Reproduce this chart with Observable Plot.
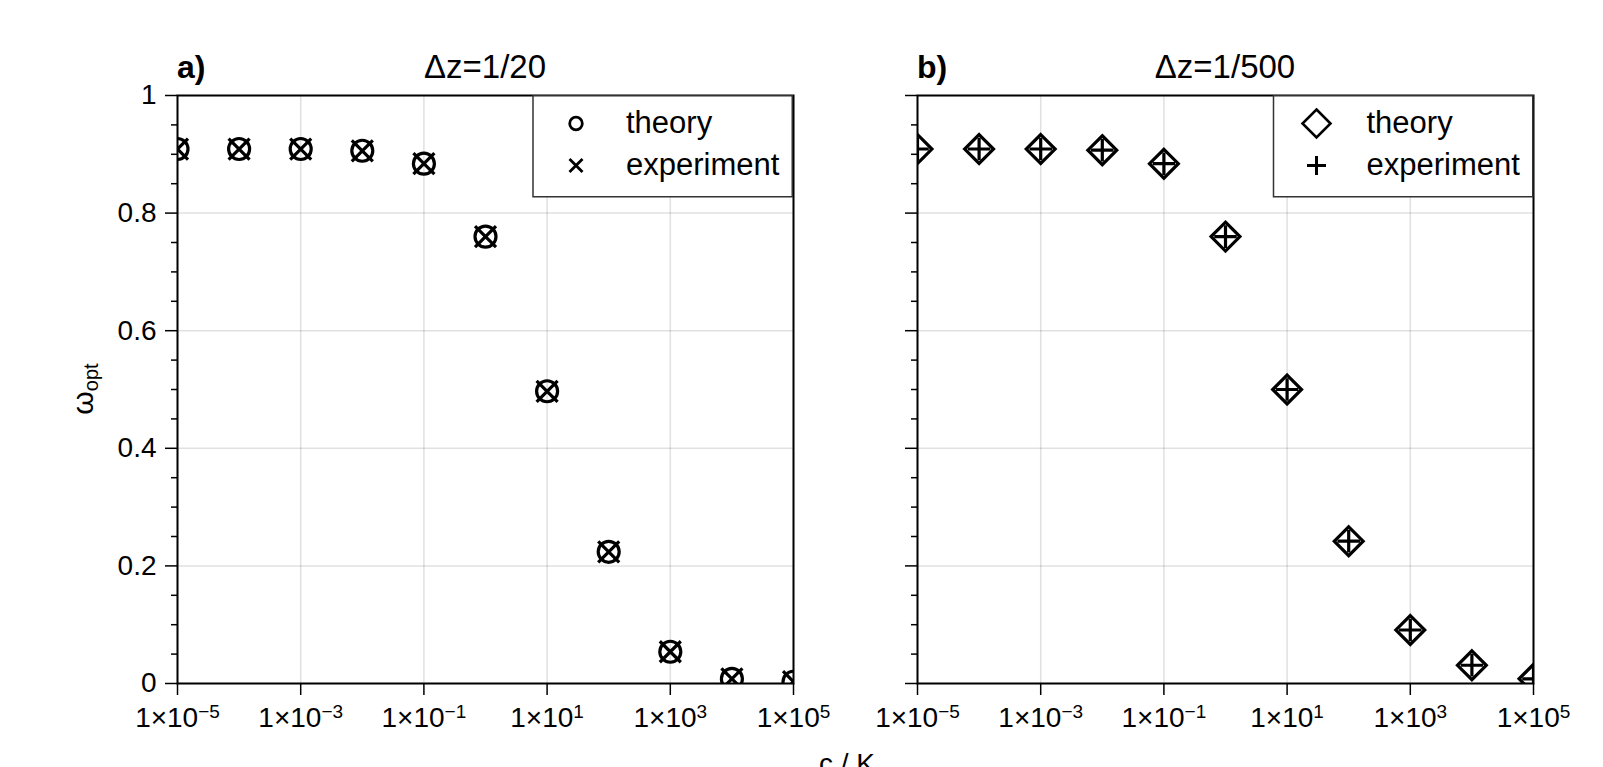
<!DOCTYPE html>
<html><head><meta charset="utf-8">
<script src="https://cdn.jsdelivr.net/npm/d3@7"></script>
<script src="https://cdn.jsdelivr.net/npm/@observablehq/plot@0.6"></script>
<style>
html,body{margin:0;padding:0;background:#fff;}
#wrap{position:relative;width:1603px;height:767px;overflow:hidden;background:#fff;}
#wrap svg{position:absolute;top:0;max-width:none;}
</style></head><body><div id="wrap"></div>
<script>
// ---- data ----
const cK = [1e-5, 1e-4, 1e-3, 1e-2, 1e-1, 1, 10, 100, 1000, 1e4, 1e5];
const theoryA     = [0.909, 0.909, 0.909, 0.906, 0.884, 0.760, 0.497, 0.224, 0.054, 0.008, 0.003];
const experimentA = [0.909, 0.909, 0.909, 0.906, 0.884, 0.760, 0.497, 0.224, 0.054, 0.008, 0.003];
const theoryB     = [0.909, 0.909, 0.909, 0.907, 0.884, 0.760, 0.500, 0.242, 0.091, 0.031, 0.008];
const experimentB = [0.909, 0.909, 0.909, 0.907, 0.884, 0.760, 0.500, 0.242, 0.091, 0.031, 0.008];
const xTickValues = [1e-5, 1e-3, 1e-1, 1e1, 1e3, 1e5];
const xTickLabels = ["1×10|−5", "1×10|−3", "1×10|−1", "1×10|1", "1×10|3", "1×10|5"];
const yTickValues = [0, 0.2, 0.4, 0.6, 0.8, 1];
const yTickLabels = ["0", "0.2", "0.4", "0.6", "0.8", "1"];
const yMinorTicks = [0.05, 0.1, 0.15, 0.25, 0.3, 0.35, 0.45, 0.5, 0.55, 0.65, 0.7, 0.75, 0.85, 0.9, 0.95];
const panelLetters = ["a)", "b)"];
const panelTitles = ["Δz=1/20", "Δz=1/500"];
const seriesNames = ["theory", "experiment"];

const FONT = "Liberation Sans, Arial, Helvetica, sans-serif";
const ns = "http://www.w3.org/2000/svg";
const xFmt = new Map(xTickValues.map((v, i) => [v, xTickLabels[i]]));
const yFmt = new Map(yTickValues.map((v, i) => [v, yTickLabels[i]]));

function panel(o) {
  const rows = cK.map((c, i) => ({c, theory: o.theory[i], experiment: o.experiment[i]}));
  const svg = Plot.plot({
    width: o.width, height: 767,
    marginLeft: o.ml, marginRight: o.mr, marginTop: 95, marginBottom: 84,
    style: {fontFamily: FONT, fontSize: "28px", color: "#000", background: "transparent", overflow: "visible"},
    x: {type: "log", domain: [1e-5, 1e5]},
    y: {domain: [0, 1]},
    marks: [
      Plot.gridX(xTickValues, {stroke: "#000", strokeOpacity: 0.12, strokeWidth: 1.5}),
      Plot.gridY(yTickValues, {stroke: "#000", strokeOpacity: 0.12, strokeWidth: 1.5}),
      Plot.dot(rows, {x: "c", y: "theory", symbol: o.sym1, r: o.r1, stroke: "#000", strokeWidth: 3.2, fill: "none", clip: true}),
      Plot.dot(rows, {x: "c", y: "experiment", symbol: o.sym2, r: o.r2, stroke: "#000", strokeWidth: 3.2, fill: "none", clip: true}),
      Plot.axisX(xTickValues, {tickSize: 12, tickPadding: 12, strokeWidth: 1.5, tickFormat: d => xFmt.get(d), label: null}),
      Plot.axisY(yMinorTicks, {tickSize: 6, strokeWidth: 1.5, tickFormat: () => "", label: null}),
      Plot.axisY(yTickValues, {tickSize: 12, tickPadding: 9, strokeWidth: 1.5, tickFormat: o.labels ? (d => yFmt.get(d)) : (() => ""), label: null}),
      Plot.frame({stroke: "#000", strokeWidth: 2})
    ]
  });
  svg.querySelectorAll("text").forEach(t => {
    t.style.fontSize = "28px";
    t.style.fontFamily = FONT;
    const s = t.textContent;
    if (s.includes("|")) {
      const [b, e] = s.split("|");
      t.textContent = b;
      const ts = document.createElementNS(ns, "tspan");
      ts.setAttribute("dy", "-9.5");
      ts.style.fontSize = "19px";
      ts.textContent = e;
      t.appendChild(ts);
    }
  });
  svg.style.left = o.left + "px";
  return svg;
}

const wrap = document.getElementById("wrap");
wrap.appendChild(panel({width: 860, left: 0, ml: 177, mr: 67, theory: theoryA, experiment: experimentA,
  sym1: "circle", r1: 10.5, sym2: "times", r2: 9.6, labels: true}));
wrap.appendChild(panel({width: 753, left: 850, ml: 67, mr: 70, theory: theoryB, experiment: experimentB,
  sym1: "diamond2", r1: 13, sym2: "plus", r2: 7.3, labels: false}));

// ---- overlay: titles, axis labels, legends ----
const ov = d3.select(wrap).append("svg").attr("width", 1603).attr("height", 767)
  .style("left", "0px").style("font-family", FONT).style("pointer-events", "none");

const frames = [[177, 793], [917, 1533]];
frames.forEach(([x0, x1], i) => {
  ov.append("text").attr("x", x0).attr("y", 78).attr("font-size", 32).attr("font-weight", "bold").text(panelLetters[i]);
  ov.append("text").attr("x", (x0 + x1) / 2).attr("y", 78).attr("font-size", 33).attr("text-anchor", "middle").text(panelTitles[i]);
});

const yl = ov.append("text").attr("transform", "translate(93,389) rotate(-90)").attr("text-anchor", "middle").attr("font-size", 30);
yl.append("tspan").text("ω");
yl.append("tspan").attr("font-size", 20).attr("dy", 5).text("opt");
ov.append("text").attr("x", 847).attr("y", 773).attr("text-anchor", "middle").attr("font-size", 28).text("c / K");

function legend(x0, symFns) {
  const g = ov.append("g");
  g.append("rect").attr("x", x0).attr("y", 95.75).attr("width", 259.25).attr("height", 101)
    .attr("fill", "#fff").attr("stroke", "#333").attr("stroke-width", 1.5);
  [123.5, 165.5].forEach((cy, i) => {
    symFns[i](g, x0 + 43, cy);
    g.append("text").attr("x", x0 + 93).attr("y", cy).attr("dy", 9.5).attr("font-size", 31).text(seriesNames[i]);
  });
}
const circ = (g, x, y) => g.append("circle").attr("cx", x).attr("cy", y).attr("r", 6.3).attr("fill", "none").attr("stroke", "#000").attr("stroke-width", 2.8);
const times = (g, x, y) => g.append("path").attr("d", `M${x-6.5},${y-6.5}L${x+6.5},${y+6.5}M${x-6.5},${y+6.5}L${x+6.5},${y-6.5}`).attr("stroke", "#000").attr("stroke-width", 2.8);
const diam = (g, x, y) => g.append("path").attr("d", `M${x},${y-14}L${x+14},${y}L${x},${y+14}L${x-14},${y}Z`).attr("fill", "none").attr("stroke", "#000").attr("stroke-width", 2.6);
const plus = (g, x, y) => g.append("path").attr("d", `M${x-9.5},${y}L${x+9.5},${y}M${x},${y-9.5}L${x},${y+9.5}`).attr("stroke", "#000").attr("stroke-width", 3);
legend(533, [circ, times]);
legend(1273.5, [diam, plus]);
</script></body></html>
